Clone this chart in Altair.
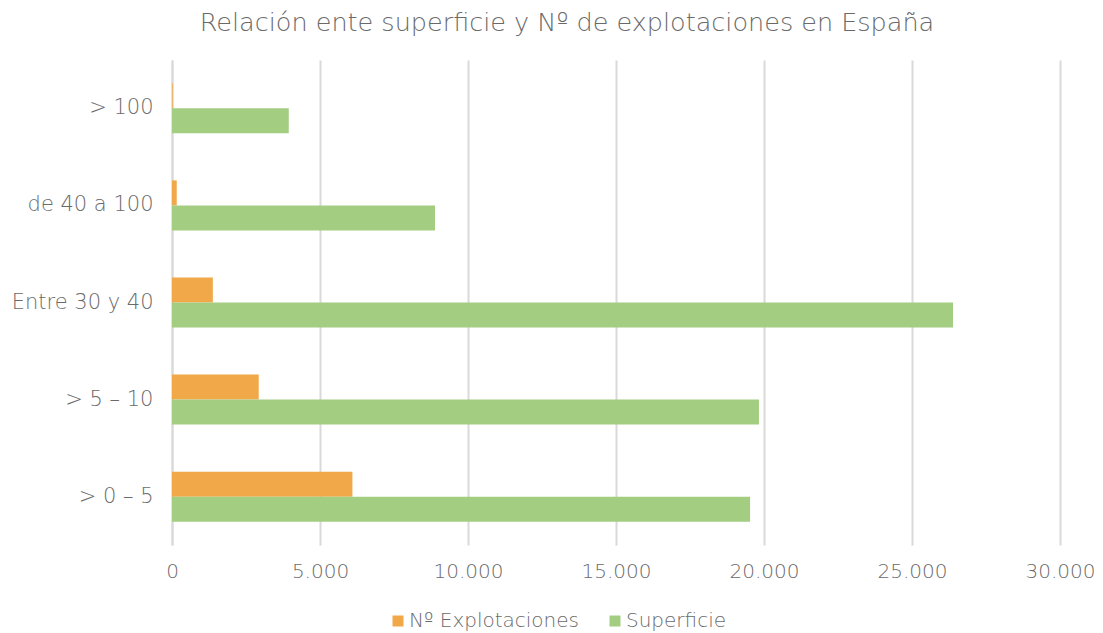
import altair as alt
import pandas as pd

categories = ["> 100", "de 40 a 100", "Entre 30 y 40", "> 5 – 10", "> 0 – 5"]
explotaciones = [25, 160, 1380, 2930, 6095]
superficie = [3945, 8885, 26385, 19830, 19530]
series = ["Nº Explotaciones", "Superficie"]
colors = ["#F0A848", "#A3CE82"]

rows = []
for c, e, s in zip(categories, explotaciones, superficie):
    rows.append({"cat": c, "serie": series[0], "valor": e})
    rows.append({"cat": c, "serie": series[1], "valor": s})
df = pd.DataFrame(rows)

FONT = "DejaVu Sans"
W = 200
GREY = "#6a6a6a"

chart = alt.Chart(df).mark_bar(strokeWidth=0).encode(
    y=alt.Y("cat:N", sort=categories,
            scale=alt.Scale(paddingInner=0.485, paddingOuter=0.24),
            axis=alt.Axis(title=None, ticks=False, domain=True, domainColor="#d9d9d9",
                          domainWidth=2, labelFont=FONT, labelFontSize=21,
                          labelColor=GREY, labelPadding=19, labelFontWeight=W)),
    yOffset=alt.YOffset("serie:N", sort=series, scale=alt.Scale(paddingInner=0, paddingOuter=0)),
    x=alt.X("valor:Q", scale=alt.Scale(domain=[0, 30000], nice=False),
            axis=alt.Axis(title=None, values=[0, 5000, 10000, 15000, 20000, 25000, 30000],
                          labelExpr="replace(format(datum.value, ','), ',', '.')",
                          labelFlush=False, labelOverlap=False,
                          domain=False, ticks=False, grid=True, gridColor="#d9d9d9",
                          gridWidth=2, labelFont=FONT, labelFontSize=20, labelColor=GREY,
                          labelPadding=16, labelFontWeight=W)),
    color=alt.Color("serie:N", sort=series,
                    scale=alt.Scale(domain=series, range=colors),
                    legend=alt.Legend(title=None, orient="none", direction="horizontal",
                                      legendX=216, legendY=551, symbolType="square",
                                      symbolSize=121, symbolStrokeWidth=0,
                                      labelFont=FONT, labelFontSize=20, labelColor=GREY,
                                      labelFontWeight=W, columnPadding=26,
                                      labelOffset=1, labelLimit=400)),
).properties(
    width=888,
    height=485,
    title=alt.Title("Relación ente superficie y Nº de explotaciones en España",
                    font=FONT, fontSize=25.5, fontWeight=W, color=GREY,
                    anchor="middle", offset=24, dx=-49),
    autosize=alt.AutoSizeParams(type="none"),
    padding={"left": 164, "top": 52, "right": 35, "bottom": 88},
).configure_view(stroke=None)

chart.save("out.html", embed_options={"renderer": "svg", "actions": False})
